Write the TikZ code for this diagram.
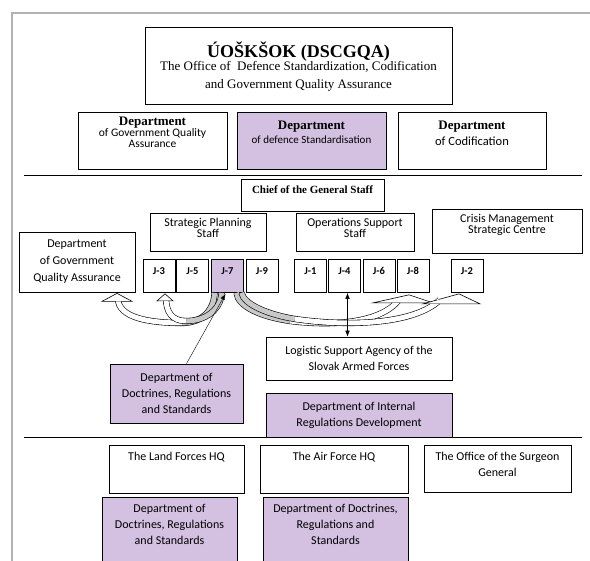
\documentclass[tikz,border=0pt]{standalone}
\usepackage{fontspec}
\setmainfont{Liberation Serif}
\newfontfamily\calibri{Carlito}
\usetikzlibrary{arrows.meta,calc}
\definecolor{lav}{RGB}{212,193,225}
\definecolor{foldgray}{RGB}{200,200,200}
\definecolor{framegray}{RGB}{178,178,178}
\tikzset{
  box/.style={draw,line width=0.7pt,inner sep=2pt,align=center,
    font=\calibri\fontsize{12}{16}\selectfont},
  tight/.style={font={\calibri\fontsize{12}{11}\selectfont\lineskiplimit=-20pt}},
  jbox/.style={draw,line width=0.7pt,inner sep=1pt,minimum width=32pt,
    text height=14pt,text depth=17pt,font=\calibri\bfseries\fontsize{10.5}{12}\selectfont},
  ribbon/.style={line width=0.6pt,double=white,double distance=5pt},
  fold/.style={ribbon,double=foldgray},
  arrowhd/.style={fill=white,line width=0.6pt},
  pointer/.style={-{Latex[length=6pt,width=4.5pt]}},
}
\begin{document}
\begin{tikzpicture}[x=1pt,y=-1pt]
\useasboundingbox (0,0) rectangle (590,561);
\draw[framegray,line width=1.5pt] (12,561) -- (12,13) -- (590,13);

% office and its departments
\node[box,line width=1pt,minimum width=307,minimum height=77,font=\fontsize{13}{18.5}\selectfont] (uos) at (298.5,66.5)
  {{\bfseries\fontsize{18}{18}\selectfont ÚOŠKŠOK (DSCGQA)}\\[-5.5pt]
   The Office of\ \ Defence Standardization, Codification\\
   and Government Quality Assurance};
\node[box,minimum width=149,text height=34pt,text depth=19pt,font={\calibri\fontsize{11.5}{11}\selectfont\lineskiplimit=-20pt}] (gqadep) at (152.5,140.5)
  {{\rmfamily\bfseries\fontsize{13}{13}\selectfont Department}\\ of Government Quality\\ Assurance};
\node[box,fill=lav,minimum width=149,text height=30pt,text depth=23pt,font=\calibri\fontsize{11}{14}\selectfont] (stddep) at (311.5,140.5)
  {{\rmfamily\bfseries\fontsize{13}{13}\selectfont Department}\\ of defence Standardisation};
\node[box,minimum width=148,text height=32pt,text depth=21pt,font=\calibri\fontsize{12.5}{16}\selectfont] (coddep) at (472,140.5)
  {{\rmfamily\bfseries\fontsize{13}{13}\selectfont Department}\\ of Codification};
\draw[line width=0.8pt] (24,175) -- (582,175);

% general staff
\node[box,minimum width=143,text height=12.5pt,text depth=15.5pt,font=\bfseries\fontsize{11}{13}\selectfont] (chief) at (312.5,195) {Chief of the General Staff};
\node[box,tight,minimum width=116,text height=23pt,text depth=11pt] (sps) at (208,232) {Strategic Planning\\ Staff};
\node[box,tight,minimum width=118,text height=23pt,text depth=11pt] (ops) at (355,232) {Operations Support\\ Staff};
\node[box,tight,minimum width=150,text height=23pt,text depth=17pt] (cmsc) at (507,231) {Crisis Management\\ Strategic Centre};
\node[box,minimum width=116,minimum height=60,font=\calibri\fontsize{12}{17}\selectfont] (gqaunit) at (77,262) {Department\\ of Government\\ Quality Assurance};
\node[jbox] (j3) at (159,276) {J-3};
\node[jbox] (j5) at (192.5,276) {J-5};
\node[jbox,fill=lav] (j7) at (227.5,276) {J-7};
\node[jbox] (j9) at (262,276) {J-9};
\node[jbox] (j1) at (310.5,276) {J-1};
\node[jbox] (j4) at (344.5,276) {J-4};
\node[jbox] (j6) at (379,276) {J-6};
\node[jbox] (j8) at (413,276) {J-8};
\node[jbox] (j2) at (467,276) {J-2};
\node[box,minimum width=186,minimum height=43] (lsa) at (359,358.5) {Logistic Support Agency of the\\ Slovak Armed Forces};
\node[box,fill=lav,minimum width=133,minimum height=59] (drsgs) at (176.5,393.5) {Department of\\ Doctrines, Regulations\\ and Standards};
\node[box,fill=lav,minimum width=186,minimum height=44] (irdep) at (359,415) {Department of Internal\\ Regulations Development};

% curved block arrows out of J-7
\coordinate (tA) at ($(gqaunit.south)+(40,1)$);
\coordinate (tB) at ($(j3.south)+(6,1)$);
\coordinate (tC) at ($(j8.south)+(-4,2)$);
\coordinate (tD) at ($(j2.south)+(-8,1)$);
\coordinate (sA) at ($(j7.south)+(-13,0)$);
\coordinate (sB) at ($(j7.south)+(-6,0)$);
\coordinate (sC) at ($(j7.south)+(9,0)$);
\coordinate (sD) at ($(j7.south)+(14,0)$);
\filldraw[arrowhd] (tA) -- ++(-15,8) -- ++(30,0) -- cycle;
\filldraw[arrowhd] (tB) -- ++(-8,7) -- ++(16,0) -- cycle;
\begin{scope}[even odd rule]
\clip (0,0) rectangle (590,561)
  (tA) -- ++(-15,8) -- ++(30,0) -- cycle (tB) -- ++(-8,7) -- ++(16,0) -- cycle;
\draw[fold] (sA) .. controls (214,312) and (200,323) .. (182,323);
\draw[ribbon] (182,323) .. controls (150,323) and (118,318) .. ($(tA)+(1,5)$);
\draw[fold] (sB) .. controls (221,310) and (205,321) .. (186,321);
\draw[ribbon] (186,321) .. controls (172,321) and (166,312) .. ($(tB)+(1,4)$);
\end{scope}
\filldraw[arrowhd] (tC) -- ++(-36,8) -- ++(60,0) -- cycle;
\begin{scope}[even odd rule]
\clip (0,0) rectangle (590,561) (tC) -- ++(-36,8) -- ++(60,0) -- cycle;
\draw[fold] (sC) .. controls (238,307) and (262,317) .. (290,321);
\draw[ribbon] (290,321) .. controls (330,326) and (380,324) .. ($(tC)+(-10,5)$);
\end{scope}
\filldraw[arrowhd] (tD) -- ++(-36,10) -- ++(57,0) -- cycle;
\begin{scope}[even odd rule]
\clip (0,0) rectangle (590,561) (tD) -- ++(-36,10) -- ++(57,0) -- cycle;
\draw[fold] (sD) .. controls (244,305) and (270,315) .. (295,319);
\draw[ribbon] (295,319) .. controls (350,327) and (415,324) .. ($(tD)+(-19,6)$);
\end{scope}

\draw[pointer] ($(drsgs.north)+(10,0)$) -- ($(j7.south)+(-2,1)$);
\draw[{Latex[length=6pt,width=4.5pt]}-{Latex[length=6pt,width=4.5pt]}] ($(j4.south)+(3,0)$) -- ($(j4.south |- lsa.north)+(3,0)$);

% armed forces
\draw[line width=0.8pt] (24,437) -- (582,437);
\node[box,minimum width=135,text height=14pt,text depth=30pt] (landhq) at (176.5,469) {The Land Forces HQ};
\node[box,minimum width=148,text height=14pt,text depth=30pt] (airhq) at (334,469) {The Air Force HQ};
\node[box,minimum width=147,text height=30pt,text depth=13pt] (surgeon) at (497.5,468.5) {The Office of the Surgeon\\ General};
\node[box,fill=lav,minimum width=135,text height=46pt,text depth=28pt] (landdrs) at (169.5,536) {Department of\\ Doctrines, Regulations\\ and Standards};
\node[box,fill=lav,minimum width=145,text height=46pt,text depth=28pt] (airdrs) at (335.5,536) {Department of Doctrines,\\ Regulations and\\ Standards};
\end{tikzpicture}
\end{document}
